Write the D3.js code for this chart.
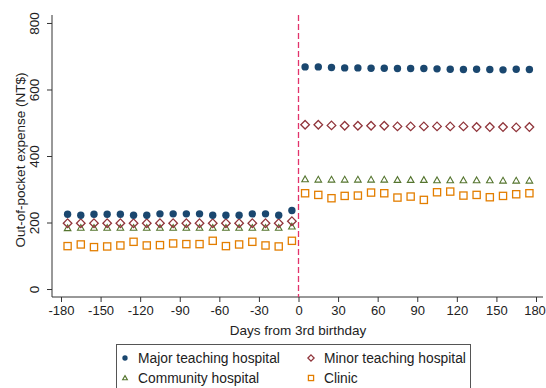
<!DOCTYPE html>
<html><head><meta charset="utf-8">
<script src="https://cdn.jsdelivr.net/npm/d3@7"></script>
<style>body{margin:0;background:#fff}svg{display:block;font-family:"Liberation Sans",Arial,sans-serif}</style>
</head><body><svg id="c" width="546" height="388"></svg>
<script>
const days = [-175,-165,-155,-145,-135,-125,-115,-105,-95,-85,-75,-65,-55,-45,-35,-25,-15,-5,
              5,15,25,35,45,55,65,75,85,95,105,115,125,135,145,155,165,175];
const majorTeaching = [225,222,225,225,225,222,222,226,226,226,226,222,222,222,226,226,222,236,
                       668,668,666,665,665,664,664,663,663,663,662,661,660,661,660,659,661,660];
const minorTeaching = [198,198,198,198,198,198,198,198,198,198,198,198,198,198,198,198,198,204,
                       494,494,492,491,491,491,491,489,489,489,489,489,489,487,487,487,486,487];
const communityHosp = [183,184,184,184,184,184,184,184,184,184,184,184,184,184,184,184,184,188,
                       330,329,329,329,329,329,329,328,328,328,327,327,327,327,327,326,326,326];
const clinic = [129,134,126,128,131,142,131,132,137,135,135,145,129,134,142,131,128,145,
                288,283,273,280,281,290,288,275,278,268,291,293,281,283,276,280,285,288];
const xTicks = [-180,-150,-120,-90,-60,-30,0,30,60,90,120,150,180];
const yTicks = [0,200,400,600,800];
const seriesNames = ["Major teaching hospital","Minor teaching hospital","Community hospital","Clinic"];

const svg = d3.select("#c");
const x = d3.scaleLinear().domain([-180,180]).range([61,536]);
const y = d3.scaleLinear().domain([-24,824]).range([297,15]);
const axisCol = "#333";
const fmt = d => String(d);

svg.append("line").attr("x1",52).attr("x2",52).attr("y1",15).attr("y2",297).attr("stroke",axisCol).attr("stroke-width",1);
svg.append("line").attr("x1",52).attr("x2",543).attr("y1",297).attr("y2",297).attr("stroke",axisCol).attr("stroke-width",1);

const yAx = svg.append("g").attr("transform","translate(52,0)").call(d3.axisLeft(y).tickValues(yTicks).tickFormat(fmt).tickSize(5).tickSizeOuter(0));
yAx.select(".domain").remove();
yAx.selectAll(".tick line").attr("stroke",axisCol);
yAx.selectAll(".tick text").attr("font-size",13.5).attr("fill","#222").attr("font-family","Liberation Sans, Arial, sans-serif")
  .attr("text-anchor","middle").attr("dy",0)
  .attr("transform","rotate(-90) translate(0,-13)").attr("x",0).attr("y",0);

const xAx = svg.append("g").attr("transform","translate(0,297)").call(d3.axisBottom(x).tickValues(xTicks).tickFormat(fmt).tickSize(5).tickSizeOuter(0));
xAx.select(".domain").remove();
xAx.selectAll(".tick line").attr("stroke",axisCol);
xAx.selectAll(".tick text").attr("font-size",13).attr("fill","#222").attr("font-family","Liberation Sans, Arial, sans-serif").attr("y",9);
xAx.selectAll(".tick").filter(d=>d===180).select("text").attr("dx",-1.5);

svg.append("text").attr("x",298).attr("y",335).attr("text-anchor","middle").attr("font-size",13.5).attr("fill","#222").text("Days from 3rd birthday");
svg.append("text").attr("transform","translate(25,160) rotate(-90)").attr("text-anchor","middle").attr("font-size",13.5).attr("fill","#222").text("Out-of-pocket expense (NT$)");

svg.append("line").attr("x1",x(0)).attr("x2",x(0)).attr("y1",15).attr("y2",297)
  .attr("stroke","#e2336b").attr("stroke-width",1.3).attr("stroke-dasharray","6,3");

const colors = ["#1a476f","#90353b","#55752f","#e37e00"];
const data = [majorTeaching, minorTeaching, communityHosp, clinic];

function drawSym(g, i, cx, cy, scale){
  scale = scale||1;
  if(i===0){ g.append("circle").attr("cx",cx).attr("cy",cy).attr("r",3.7*scale).attr("fill",colors[0]); }
  else if(i===1){ const r=4.3*scale; g.append("path").attr("d",`M${cx},${cy-r}L${cx+r},${cy}L${cx},${cy+r}L${cx-r},${cy}Z`).attr("fill","none").attr("stroke",colors[1]).attr("stroke-width",1.3); }
  else if(i===2){ const r=3.3*scale; g.append("path").attr("d",`M${cx},${cy-r}L${cx+r},${cy+r*0.75}L${cx-r},${cy+r*0.75}Z`).attr("fill","none").attr("stroke",colors[2]).attr("stroke-width",1.1); }
  else { const r=3.6*scale; g.append("rect").attr("x",cx-r).attr("y",cy-r).attr("width",2*r).attr("height",2*r).attr("fill","none").attr("stroke",colors[3]).attr("stroke-width",1.3); }
}
const pts = svg.append("g");
[3,2,1,0].forEach(i=>{
  data[i].forEach((v,j)=>drawSym(pts,i,x(days[j]),y(v)));
});

svg.append("rect").attr("x",116.5).attr("y",344.5).attr("width",354).attr("height",50).attr("fill","#fff").attr("stroke","#555").attr("stroke-width",1);
const leg = [[0,125,358],[1,311,358],[2,125,378],[3,311,378]];
leg.forEach(([i,lx,ly])=>{
  drawSym(svg,i,lx,ly,0.72);
  svg.append("text").attr("x",lx+13).attr("y",ly+4.8).attr("font-size",13.8).attr("fill","#222").text(seriesNames[i]);
});
</script></body></html>
